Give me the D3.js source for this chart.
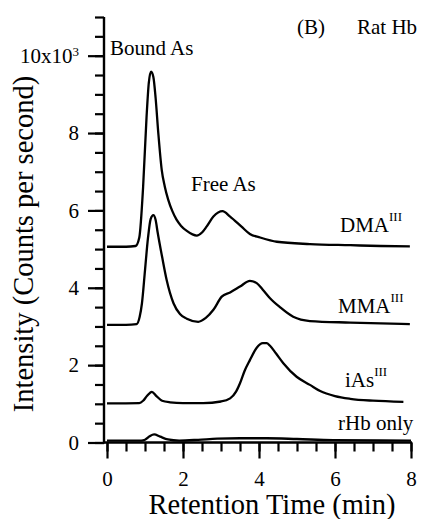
<!DOCTYPE html>
<html>
<head>
<meta charset="utf-8">
<script src="https://cdn.jsdelivr.net/npm/d3@7"></script>
<style>
  html, body { margin: 0; padding: 0; background: #fff; }
  svg { display: block; }
</style>
</head>
<body>
<svg id="chart" width="433" height="519"></svg>
<script>
// ---- data (retention time in min, intensity in thousands of counts/s) ----
const dmaTime = [0, 0.5, 0.75, 0.85, 0.95, 1.04, 1.10, 1.16, 1.22, 1.28, 1.35, 1.44, 1.52, 1.61, 1.72, 1.83, 1.95, 2.1, 2.25, 2.36, 2.5, 2.62, 2.8, 3.04, 3.24, 3.54, 3.76, 4.03, 4.47, 5.34, 6.4, 7.2, 7.97];
const dmaValue = [5.06, 5.06, 5.08, 5.3, 6.6, 8.4, 9.3, 9.59, 9.45, 8.9, 8.0, 7.05, 6.62, 6.28, 5.98, 5.76, 5.6, 5.47, 5.38, 5.35, 5.43, 5.58, 5.84, 5.98, 5.84, 5.58, 5.39, 5.30, 5.19, 5.13, 5.10, 5.08, 5.07];

const mmaTime = [0, 0.5, 0.78, 0.86, 0.92, 1.0, 1.08, 1.15, 1.22, 1.28, 1.33, 1.45, 1.57, 1.75, 1.92, 2.1, 2.4, 2.6, 2.8, 3.02, 3.24, 3.5, 3.76, 3.94, 4.1, 4.29, 4.55, 4.9, 5.34, 6.4, 7.97];
const mmaValue = [3.04, 3.04, 3.06, 3.25, 3.6, 4.45, 5.3, 5.78, 5.88, 5.75, 5.45, 4.8, 4.2, 3.6, 3.32, 3.2, 3.12, 3.22, 3.43, 3.77, 3.88, 4.03, 4.18, 4.12, 3.95, 3.73, 3.5, 3.25, 3.14, 3.1, 3.06];

const iasTime = [0, 0.85, 0.95, 1.05, 1.18, 1.3, 1.45, 1.66, 2.0, 2.53, 3.0, 3.24, 3.4, 3.5, 3.62, 3.76, 3.94, 4.1, 4.2, 4.29, 4.45, 4.64, 4.99, 5.34, 5.61, 6.0, 6.4, 7.0, 7.8];
const iasValue = [1.01, 1.02, 1.08, 1.2, 1.31, 1.2, 1.08, 1.04, 1.02, 1.02, 1.06, 1.14, 1.32, 1.53, 1.85, 2.13, 2.45, 2.57, 2.57, 2.5, 2.3, 2.05, 1.70, 1.49, 1.33, 1.2, 1.13, 1.08, 1.05];

const rhbTime = [0, 0.9, 1.0, 1.12, 1.24, 1.4, 1.6, 1.9, 2.4, 2.9, 3.5, 4.2, 5.0, 5.95, 8.0];
const rhbValue = [0.05, 0.05, 0.07, 0.16, 0.21, 0.15, 0.08, 0.05, 0.07, 0.10, 0.11, 0.11, 0.09, 0.06, 0.05];

const seriesNames = ["DMA", "MMA", "iAs", "rHb only"];
const seriesSup = ["III", "III", "III", ""];

const xMajorTicks = [0, 2, 4, 6, 8];
const yMajorTicks = [0, 2, 4, 6, 8, 10];

// ---- layout ----
const svg = d3.select("#chart");
const x = d3.scaleLinear().domain([0, 8]).range([107, 411]);
const y = d3.scaleLinear().domain([0, 11]).range([442.5, 17]);
const axisX0 = 104;
const font = 21;
const FF = '"Liberation Serif", "DejaVu Serif", "Noto Serif", "Times New Roman", Times, serif';

const xMinor = d3.range(0, 8.001, 0.5);
const yMinor = d3.range(0, 11.001, 0.5);

function styleAxis(g) {
  g.attr("font-family", FF).attr("font-size", font);
  g.select(".domain").remove();
  g.selectAll("line").attr("stroke", "#000").attr("stroke-width", 2.2);
  g.selectAll("text").attr("font-family", FF).attr("font-size", font).attr("fill", "#000");
}

svg.append("g").attr("transform", `translate(0,${y(0)})`)
  .call(d3.axisBottom(x).tickValues(xMinor).tickSize(9).tickFormat("")).call(styleAxis);
svg.append("g").attr("transform", `translate(0,${y(0)})`)
  .call(d3.axisBottom(x).tickValues(xMajorTicks).tickSize(16).tickPadding(13).tickFormat(d3.format("d"))).call(styleAxis);

svg.append("g").attr("transform", `translate(${axisX0},0)`)
  .call(d3.axisLeft(y).tickValues(yMinor).tickSize(9).tickFormat("")).call(styleAxis);
const gy2 = svg.append("g").attr("transform", `translate(${axisX0},0)`)
  .call(d3.axisLeft(y).tickValues(yMajorTicks).tickSize(16).tickPadding(9).tickFormat(d3.format("d"))).call(styleAxis);
gy2.selectAll("text").filter(d => d === 10).text(null).call(t => {
  t.append("tspan").text("10x10");
  t.append("tspan").text("3").attr("font-size", 13).attr("dy", "-0.55em");
});

svg.append("line").attr("x1", axisX0).attr("x2", axisX0).attr("y1", y(11)).attr("y2", y(0) + 1)
  .attr("stroke", "#000").attr("stroke-width", 2.4);
svg.append("line").attr("x1", axisX0 - 1).attr("x2", x(8) + 1).attr("y1", y(0)).attr("y2", y(0))
  .attr("stroke", "#000").attr("stroke-width", 2.4);

const line = d3.line().x(d => x(d[0])).y(d => y(d[1])).curve(d3.curveMonotoneX);
const series = [
  d3.zip(dmaTime, dmaValue),
  d3.zip(mmaTime, mmaValue),
  d3.zip(iasTime, iasValue),
  d3.zip(rhbTime, rhbValue)
];
svg.append("g").selectAll("path").data(series).join("path")
  .attr("d", line).attr("fill", "none").attr("stroke", "#000")
  .attr("stroke-width", 2.3).attr("stroke-linejoin", "round");

function txt(xp, yp, size) {
  return svg.append("text").attr("x", xp).attr("y", yp).attr("font-size", size)
    .attr("font-family", FF).attr("fill", "#000");
}

const labelPos = [[340, 231.5], [338, 313], [345, 386.5], [338, 430]];
seriesNames.forEach((name, i) => {
  const t = txt(labelPos[i][0], labelPos[i][1], font);
  t.append("tspan").text(name);
  if (seriesSup[i]) t.append("tspan").text(seriesSup[i]).attr("font-size", 13).attr("dy", -11);
});

txt(110, 55, font).text("Bound As");
txt(191, 191, font).text("Free As");
txt(297, 34, font).text("(B)");
txt(357, 34, font).text("Rat Hb");

txt(272, 514, 28.5).attr("text-anchor", "middle").text("Retention Time (min)");
svg.append("text").attr("transform", "translate(33,244) rotate(-90)").attr("text-anchor", "middle")
  .attr("font-family", FF).attr("font-size", 28.5).attr("fill", "#000").text("Intensity (Counts per second)");
</script>
</body>
</html>
